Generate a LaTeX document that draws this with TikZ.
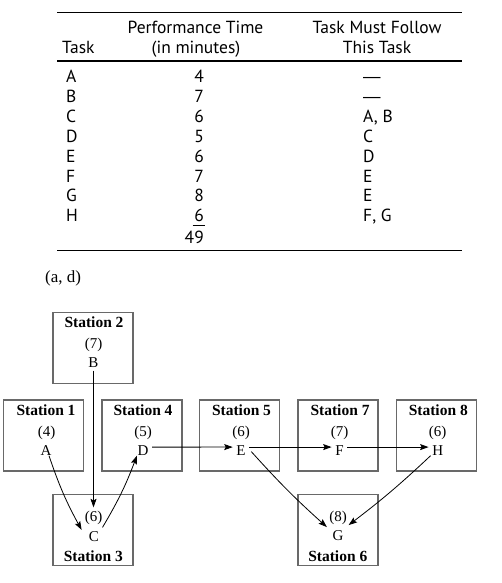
\documentclass[tikz,border=0pt]{standalone}
\usepackage{fontspec}
\setmainfont{Liberation Serif}
\newfontfamily\tabfont{PT Sans}
\newfontfamily\dashfont{Liberation Sans}
\usetikzlibrary{arrows.meta}
\definecolor{boxgray}{RGB}{105,105,105}
\begin{document}
\begin{tikzpicture}[x=1pt,y=-1pt,
  tab/.style={font=\tabfont\fontsize{17.5}{20}\selectfont, inner sep=0pt, anchor=base},
  rule/.style={line width=1.1pt},
  stbox/.style={draw=boxgray, line width=1.7pt, minimum width=80pt, minimum height=71pt, inner sep=0pt},
  sttitle/.style={font=\bfseries\fontsize{15.5}{18}\selectfont, inner sep=0pt, anchor=base},
  sttime/.style={font=\fontsize{15}{18}\selectfont, inner sep=0pt, anchor=base},
  letter/.style={font=\fontsize{15}{18}\selectfont, inner sep=3.5pt, anchor=base},
  arr/.style={-{Stealth[length=8.5pt,width=6pt,inset=1.5pt]}, line width=0.8pt}]
\useasboundingbox (0,0) rectangle (501,583);

% ---------- table ----------
\draw[rule] (57,12.3) -- (462,12.3);
\draw[rule] (57,61) -- (462,61);
\draw[rule] (57,250.7) -- (462,250.7);

\node[tab, anchor=base west] (hTask) at (62,53.3) {Task};
\node[tab] (hPerfA) at (195.5,33.3) {Performance Time};
\node[tab] (hPerfB) at (196,53.3) {(in minutes)};
\node[tab] (hFolA) at (377,33.3) {Task Must Follow};
\node[tab] (hFolB) at (377,53.3) {This Task};

\foreach \t/\n/\f [count=\i from 0] in {A/4/{\dashfont—}, B/7/{\dashfont—}, C/6/{A, B}, D/5/C, E/6/D, F/7/E, G/8/E, H/6/{F, G}}{
  \node[tab, anchor=base west] (t\t) at (66,82.7+19.86*\i) {\t};
  \node[tab, anchor=base east] (n\t) at (204,82.7+19.86*\i) {\n};
  \node[tab, anchor=base west] (f\t) at (363,82.7+19.86*\i) {\f};
}
\node[tab, anchor=base east] (total) at (204,243.3) {49};
\draw[line width=1pt] (192.5,225.5) -- (205,225.5);

\node[font=\fontsize{17}{20}\selectfont, inner sep=0pt, anchor=base west] (label) at (45,282) {(a, d)};

% ---------- stations ----------
\node[stbox] (S2) at (93,348) {};
\node[stbox] (S1) at (43.5,435.5) {};
\node[stbox] (S4) at (142,435.5) {};
\node[stbox] (S5) at (239.5,435.5) {};
\node[stbox] (S7) at (338,435.5) {};
\node[stbox] (S8) at (436.5,435.5) {};
\node[stbox] (S3) at (93,530) {};
\node[stbox] (S6) at (338,530) {};

% top-row stations
\node[sttitle] (T2) at (94,327) {Station 2};
\node[sttime]  (P2) at (93.5,348) {(7)};
\node[letter]  (B)  at (93.5,367) {B};

\node[sttitle] (T1) at (46,415) {Station 1};
\node[sttime]  (P1) at (46.5,436) {(4)};
\node[letter]  (A)  at (46,455) {A};

\node[sttitle] (T4) at (143,415) {Station 4};
\node[sttime]  (P4) at (143,436) {(5)};
\node[letter]  (D)  at (143,455) {D};

\node[sttitle] (T5) at (241.5,415) {Station 5};
\node[sttime]  (P5) at (241,436) {(6)};
\node[letter]  (E)  at (241,455) {E};

\node[sttitle] (T7) at (340,415) {Station 7};
\node[sttime]  (P7) at (339.5,436) {(7)};
\node[letter]  (F)  at (339.5,455) {F};

\node[sttitle] (T8) at (438.3,415) {Station 8};
\node[sttime]  (P8) at (437.7,436) {(6)};
\node[letter]  (H)  at (437.7,455) {H};

% bottom-row stations
\node[sttime]  (P3) at (93.5,521) {(6)};
\node[letter]  (C)  at (93.8,541) {C};
\node[sttitle] (T3) at (93.3,561.5) {Station 3};

\node[sttime]  (P6) at (338,521) {(8)};
\node[letter]  (G)  at (338,540.7) {G};
\node[sttitle] (T6) at (337.8,561) {Station 6};

% ---------- connectors ----------
\draw[arr] (B.south) -- ([yshift=3pt]P3.north);
\draw[arr] ([xshift=3pt,yshift=3pt]A.south) to[bend right=5] ([xshift=-3.5pt,yshift=-2.5pt]C.north west);
\draw[arr] (C.north east) to[bend right=5] ([xshift=3pt,yshift=3pt]D.south west);
\draw[arr] ([yshift=3pt]D.east) -- ([yshift=3pt]E.west);
\draw[arr] ([yshift=3pt]E.east) -- ([yshift=3pt]F.west);
\draw[arr] ([yshift=3pt]F.east) -- ([yshift=3pt]H.west);
\draw[arr] ([xshift=2pt,yshift=-1.5pt]E.east) to[bend right=3] ([xshift=-2pt]G.north west);
\draw[arr] ([xshift=2pt,yshift=3pt]H.south west) to[bend left=3] ([xshift=1.5pt,yshift=2pt]G.north east);
\end{tikzpicture}
\end{document}
